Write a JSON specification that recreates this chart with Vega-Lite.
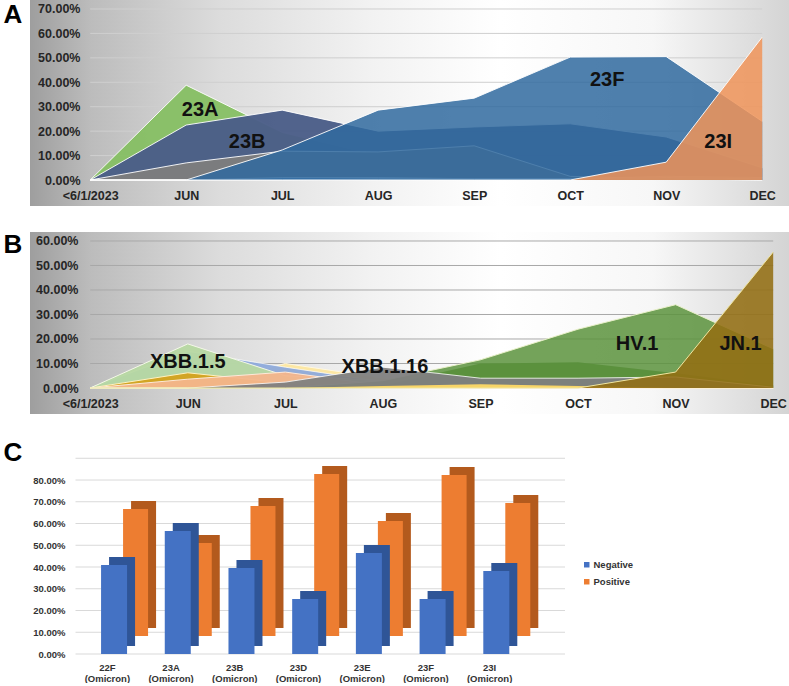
{
"$schema": "https://vega.github.io/schema/vega-lite/v6.json",
"padding": {"left": 3, "top": 0, "right": 0, "bottom": 0},
"background": "#ffffff",
"config": {"view": {"stroke": null}, "font": "Liberation Sans", "axis": {"labelFont": "Liberation Sans"}, "legend": {"labelFont": "Liberation Sans"}},
"datasets": {
"seriesA": [
{"s":"23A","m":"<6/1/2023","v":0},{"s":"23A","m":"JUN","v":0.388},{"s":"23A","m":"JUL","v":0.195},{"s":"23A","m":"AUG","v":0.10},{"s":"23A","m":"SEP","v":0.05},{"s":"23A","m":"OCT","v":0.02},{"s":"23A","m":"NOV","v":0.005},{"s":"23A","m":"DEC","v":0},
{"s":"23B","m":"<6/1/2023","v":0},{"s":"23B","m":"JUN","v":0.225},{"s":"23B","m":"JUL","v":0.286},{"s":"23B","m":"AUG","v":0.20},{"s":"23B","m":"SEP","v":0.217},{"s":"23B","m":"OCT","v":0.23},{"s":"23B","m":"NOV","v":0.176},{"s":"23B","m":"DEC","v":0.05},
{"s":"22F","m":"<6/1/2023","v":0},{"s":"22F","m":"JUN","v":0.07},{"s":"22F","m":"JUL","v":0.118},{"s":"22F","m":"AUG","v":0.115},{"s":"22F","m":"SEP","v":0.14},{"s":"22F","m":"OCT","v":0.015},{"s":"22F","m":"NOV","v":0.005},{"s":"22F","m":"DEC","v":0},
{"s":"23D","m":"<6/1/2023","v":0},{"s":"23D","m":"JUN","v":0},{"s":"23D","m":"JUL","v":0.01},{"s":"23D","m":"AUG","v":0.01},{"s":"23D","m":"SEP","v":0.005},{"s":"23D","m":"OCT","v":0.005},{"s":"23D","m":"NOV","v":0.015},{"s":"23D","m":"DEC","v":0.01},
{"s":"23E","m":"<6/1/2023","v":0},{"s":"23E","m":"JUN","v":0},{"s":"23E","m":"JUL","v":0},{"s":"23E","m":"AUG","v":0.005},{"s":"23E","m":"SEP","v":0.005},{"s":"23E","m":"OCT","v":0.005},{"s":"23E","m":"NOV","v":0.01},{"s":"23E","m":"DEC","v":0.005},
{"s":"23F","m":"<6/1/2023","v":0},{"s":"23F","m":"JUN","v":0},{"s":"23F","m":"JUL","v":0.123},{"s":"23F","m":"AUG","v":0.286},{"s":"23F","m":"SEP","v":0.335},{"s":"23F","m":"OCT","v":0.503},{"s":"23F","m":"NOV","v":0.505},{"s":"23F","m":"DEC","v":0.24},
{"s":"23I","m":"<6/1/2023","v":0},{"s":"23I","m":"JUN","v":0},{"s":"23I","m":"JUL","v":0},{"s":"23I","m":"AUG","v":0},{"s":"23I","m":"SEP","v":0},{"s":"23I","m":"OCT","v":0},{"s":"23I","m":"NOV","v":0.073},{"s":"23I","m":"DEC","v":0.585}
],
"seriesB": [
{"s":"XBB.1.9.1","m":"<6/1/2023","v":0},{"s":"XBB.1.9.1","m":"JUN","v":0.15},{"s":"XBB.1.9.1","m":"JUL","v":0.085},{"s":"XBB.1.9.1","m":"AUG","v":0.025},{"s":"XBB.1.9.1","m":"SEP","v":0.005},{"s":"XBB.1.9.1","m":"OCT","v":0},{"s":"XBB.1.9.1","m":"NOV","v":0},{"s":"XBB.1.9.1","m":"DEC","v":0},
{"s":"XBB.1.9.2","m":"<6/1/2023","v":0},{"s":"XBB.1.9.2","m":"JUN","v":0},{"s":"XBB.1.9.2","m":"JUL","v":0.10},{"s":"XBB.1.9.2","m":"AUG","v":0.04},{"s":"XBB.1.9.2","m":"SEP","v":0.015},{"s":"XBB.1.9.2","m":"OCT","v":0.005},{"s":"XBB.1.9.2","m":"NOV","v":0},{"s":"XBB.1.9.2","m":"DEC","v":0},
{"s":"XBB.1.5","m":"<6/1/2023","v":0},{"s":"XBB.1.5","m":"JUN","v":0.18},{"s":"XBB.1.5","m":"JUL","v":0.05},{"s":"XBB.1.5","m":"AUG","v":0.03},{"s":"XBB.1.5","m":"SEP","v":0.01},{"s":"XBB.1.5","m":"OCT","v":0.005},{"s":"XBB.1.5","m":"NOV","v":0},{"s":"XBB.1.5","m":"DEC","v":0},
{"s":"FL.1.5.1","m":"<6/1/2023","v":0},{"s":"FL.1.5.1","m":"JUN","v":0.062},{"s":"FL.1.5.1","m":"JUL","v":0.02},{"s":"FL.1.5.1","m":"AUG","v":0.008},{"s":"FL.1.5.1","m":"SEP","v":0.012},{"s":"FL.1.5.1","m":"OCT","v":0.005},{"s":"FL.1.5.1","m":"NOV","v":0},{"s":"FL.1.5.1","m":"DEC","v":0},
{"s":"XBB.2.3","m":"<6/1/2023","v":0},{"s":"XBB.2.3","m":"JUN","v":0.036},{"s":"XBB.2.3","m":"JUL","v":0.065},{"s":"XBB.2.3","m":"AUG","v":0.01},{"s":"XBB.2.3","m":"SEP","v":0},{"s":"XBB.2.3","m":"OCT","v":0},{"s":"XBB.2.3","m":"NOV","v":0},{"s":"XBB.2.3","m":"DEC","v":0},
{"s":"EG.5.1","m":"<6/1/2023","v":0},{"s":"EG.5.1","m":"JUN","v":0},{"s":"EG.5.1","m":"JUL","v":0},{"s":"EG.5.1","m":"AUG","v":0.01},{"s":"EG.5.1","m":"SEP","v":0.10},{"s":"EG.5.1","m":"OCT","v":0.105},{"s":"EG.5.1","m":"NOV","v":0.06},{"s":"EG.5.1","m":"DEC","v":0.01},
{"s":"HV.1","m":"<6/1/2023","v":0},{"s":"HV.1","m":"JUN","v":0},{"s":"HV.1","m":"JUL","v":0},{"s":"HV.1","m":"AUG","v":0.03},{"s":"HV.1","m":"SEP","v":0.115},{"s":"HV.1","m":"OCT","v":0.24},{"s":"HV.1","m":"NOV","v":0.34},{"s":"HV.1","m":"DEC","v":0.16},
{"s":"XBB.1.16","m":"<6/1/2023","v":0},{"s":"XBB.1.16","m":"JUN","v":0},{"s":"XBB.1.16","m":"JUL","v":0.024},{"s":"XBB.1.16","m":"AUG","v":0.085},{"s":"XBB.1.16","m":"SEP","v":0.04},{"s":"XBB.1.16","m":"OCT","v":0.04},{"s":"XBB.1.16","m":"NOV","v":0.045},{"s":"XBB.1.16","m":"DEC","v":0.003},
{"s":"GK.1","m":"<6/1/2023","v":0},{"s":"GK.1","m":"JUN","v":0},{"s":"GK.1","m":"JUL","v":0},{"s":"GK.1","m":"AUG","v":0.008},{"s":"GK.1","m":"SEP","v":0.015},{"s":"GK.1","m":"OCT","v":0.008},{"s":"GK.1","m":"NOV","v":0},{"s":"GK.1","m":"DEC","v":0},
{"s":"JN.1","m":"<6/1/2023","v":0},{"s":"JN.1","m":"JUN","v":0},{"s":"JN.1","m":"JUL","v":0},{"s":"JN.1","m":"AUG","v":0},{"s":"JN.1","m":"SEP","v":0},{"s":"JN.1","m":"OCT","v":0},{"s":"JN.1","m":"NOV","v":0.065},{"s":"JN.1","m":"DEC","v":0.555}
],
"cladeC": [
{"c":"22F (Omicron)","t":"Negative","v":0.409},{"c":"22F (Omicron)","t":"Positive","v":0.584},
{"c":"23A (Omicron)","t":"Negative","v":0.566},{"c":"23A (Omicron)","t":"Positive","v":0.428},
{"c":"23B (Omicron)","t":"Negative","v":0.395},{"c":"23B (Omicron)","t":"Positive","v":0.598},
{"c":"23D (Omicron)","t":"Negative","v":0.253},{"c":"23D (Omicron)","t":"Positive","v":0.745},
{"c":"23E (Omicron)","t":"Negative","v":0.464},{"c":"23E (Omicron)","t":"Positive","v":0.529},
{"c":"23F (Omicron)","t":"Negative","v":0.253},{"c":"23F (Omicron)","t":"Positive","v":0.740},
{"c":"23I (Omicron)","t":"Negative","v":0.382},{"c":"23I (Omicron)","t":"Positive","v":0.611}
]
},
"columns": 1,
"align": "none",
"bounds": "full",
"spacing": 26,
"concat": [
{
"width": 759, "height": 206,
"view": {"stroke": null, "fill": {"gradient": "linear", "x1": 0, "y1": 0, "x2": 1, "y2": 0, "stops": [{"offset": 0, "color": "#9e9e9e"}, {"offset": 0.08, "color": "#bcbcbc"}, {"offset": 0.25, "color": "#dcdcdc"}, {"offset": 0.45, "color": "#f2f2f2"}, {"offset": 0.62, "color": "#ffffff"}, {"offset": 0.82, "color": "#f7f7f7"}, {"offset": 1, "color": "#d4d4d4"}]}},
"title": {"text": "A", "orient": "left", "anchor": "end", "angle": 0, "align": "right", "baseline": "top", "fontSize": 26, "fontWeight": "bold", "font": "Liberation Sans", "color": "#000000", "offset": -11, "dy": 2},
"data": {"name": "seriesA"},
"encoding": {
"x": {"field": "m", "type": "ordinal", "sort": null, "scale": {"type": "point", "domain": ["<6/1/2023","JUN","JUL","AUG","SEP","OCT","NOV","DEC"], "padding": 0.453, "align": 0.692}, "axis": {"orient": "bottom", "offset": -17, "labelPadding": 0, "ticks": false, "domain": false, "grid": false, "labelAngle": 0, "labelFontSize": 12.5, "labelFontWeight": "bold", "labelColor": "#262626", "title": null}},
"y": {"field": "v", "type": "quantitative", "scale": {"domain": [-0.1064, 0.7368], "nice": false, "zero": false}, "axis": {"values": [0,0.1,0.2,0.3,0.4,0.5,0.6,0.7], "format": ".2%", "orient": "left", "offset": -52, "labelPadding": 2, "ticks": false, "domain": false, "grid": false, "labelFontSize": 12.5, "labelFontWeight": "bold", "labelColor": "#262626", "title": null}}
},
"layer": [
{"data": {"values": [{"g":0.1},{"g":0.2},{"g":0.3},{"g":0.4},{"g":0.5},{"g":0.6},{"g":0.7}]}, "mark": {"type": "rule", "color": "#cfcfcf", "strokeWidth": 1}, "encoding": {"x": {"datum": "<6/1/2023", "type": "ordinal"}, "x2": {"datum": "DEC"}, "y": {"field": "g", "type": "quantitative"}}},
{"transform": [{"filter": "datum.s === '23A'"}], "mark": {"type": "area", "color": "#86bf63", "opacity": 0.95, "line": {"color": "#ffffff", "strokeWidth": 1, "opacity": 0.9}}, "encoding": {"y2": {"datum": 0}}},
{"transform": [{"filter": "datum.s === '23B'"}], "mark": {"type": "area", "color": "#4b5e88", "opacity": 0.97, "line": {"color": "#ffffff", "strokeWidth": 1, "opacity": 0.9}}, "encoding": {"y2": {"datum": 0}}},
{"transform": [{"filter": "datum.s === '22F'"}], "mark": {"type": "area", "color": "#7d7d7d", "opacity": 0.95, "line": {"color": "#ffffff", "strokeWidth": 1, "opacity": 0.9}}, "encoding": {"y2": {"datum": 0}}},
{"transform": [{"filter": "datum.s === '23D'"}], "mark": {"type": "area", "color": "#5b9bd5", "opacity": 0.9, "line": {"color": "#ffffff", "strokeWidth": 1, "opacity": 0.8}}, "encoding": {"y2": {"datum": 0}}},
{"transform": [{"filter": "datum.s === '23E'"}], "mark": {"type": "area", "color": "#9dc3e6", "opacity": 0.9, "line": {"color": "#ffffff", "strokeWidth": 1, "opacity": 0.8}}, "encoding": {"y2": {"datum": 0}}},
{"transform": [{"filter": "datum.s === '23F'"}], "mark": {"type": "area", "color": "#306a9f", "opacity": 0.85, "line": {"color": "#ffffff", "strokeWidth": 1, "opacity": 0.9}}, "encoding": {"y2": {"datum": 0}}},
{"transform": [{"filter": "datum.s === '23I'"}], "mark": {"type": "area", "color": "#f09459", "opacity": 0.85, "line": {"color": "#ffffff", "strokeWidth": 1, "opacity": 0.9}}, "encoding": {"y2": {"datum": 0}}},
{"data": {"values": [{}]}, "mark": {"type": "rule", "color": "#595959", "strokeWidth": 2}, "encoding": {"x": {"datum": "<6/1/2023", "type": "ordinal"}, "x2": {"datum": "DEC"}, "y": {"datum": 0, "type": "quantitative"}}},
{"data": {"values": [{"t": "23A", "m": "JUN", "v": 0.2866}]}, "mark": {"type": "text", "dx": 14, "fontSize": 20, "fontWeight": "bold", "color": "#111111"}, "encoding": {"text": {"field": "t"}}},
{"data": {"values": [{"t": "23B", "m": "JUN", "v": 0.1556}]}, "mark": {"type": "text", "dx": 61, "fontSize": 20, "fontWeight": "bold", "color": "#111111"}, "encoding": {"text": {"field": "t"}}},
{"data": {"values": [{"t": "23F", "m": "OCT", "v": 0.409}]}, "mark": {"type": "text", "dx": 37, "fontSize": 20, "fontWeight": "bold", "color": "#111111"}, "encoding": {"text": {"field": "t"}}},
{"data": {"values": [{"t": "23I", "m": "NOV", "v": 0.1556}]}, "mark": {"type": "text", "dx": 52, "fontSize": 20, "fontWeight": "bold", "color": "#111111"}, "encoding": {"text": {"field": "t"}}}
]
},
{
"width": 759, "height": 182,
"view": {"stroke": null, "fill": {"gradient": "linear", "x1": 0, "y1": 0, "x2": 1, "y2": 0, "stops": [{"offset": 0, "color": "#9e9e9e"}, {"offset": 0.08, "color": "#bcbcbc"}, {"offset": 0.25, "color": "#dcdcdc"}, {"offset": 0.45, "color": "#f2f2f2"}, {"offset": 0.62, "color": "#ffffff"}, {"offset": 0.82, "color": "#f7f7f7"}, {"offset": 1, "color": "#d4d4d4"}]}},
"title": {"text": "B", "orient": "left", "anchor": "end", "angle": 0, "align": "right", "baseline": "top", "fontSize": 26, "fontWeight": "bold", "font": "Liberation Sans", "color": "#000000", "offset": -11},
"data": {"name": "seriesB"},
"encoding": {
"x": {"field": "m", "type": "ordinal", "sort": null, "scale": {"type": "point", "domain": ["<6/1/2023","JUN","JUL","AUG","SEP","OCT","NOV","DEC"], "padding": 0.3895, "align": 0.792}, "axis": {"orient": "bottom", "offset": -17, "labelPadding": 0, "ticks": false, "domain": false, "grid": false, "labelAngle": 0, "labelFontSize": 12.5, "labelFontWeight": "bold", "labelColor": "#262626", "title": null}},
"y": {"field": "v", "type": "quantitative", "scale": {"domain": [-0.1061, 0.6367], "nice": false, "zero": false}, "axis": {"values": [0,0.1,0.2,0.3,0.4,0.5,0.6], "format": ".2%", "orient": "left", "offset": -50, "labelPadding": 2, "ticks": false, "domain": false, "grid": false, "labelFontSize": 12.5, "labelFontWeight": "bold", "labelColor": "#262626", "title": null}}
},
"layer": [
{"data": {"values": [{"g":0.1},{"g":0.2},{"g":0.3},{"g":0.4},{"g":0.5},{"g":0.6}]}, "mark": {"type": "rule", "color": "#a8a8a8", "strokeWidth": 1}, "encoding": {"x": {"datum": "<6/1/2023", "type": "ordinal"}, "x2": {"datum": "DEC"}, "y": {"field": "g", "type": "quantitative"}}},
{"transform": [{"filter": "datum.s === 'XBB.1.9.2'"}], "mark": {"type": "area", "color": "#fde7a0", "opacity": 0.95, "line": {"color": "#fff8e0", "strokeWidth": 1}}, "encoding": {"y2": {"datum": 0}}},
{"transform": [{"filter": "datum.s === 'XBB.1.9.1'"}], "mark": {"type": "area", "color": "#8eaadb", "opacity": 0.95, "line": {"color": "#ffffff", "strokeWidth": 1, "opacity": 0.7}}, "encoding": {"y2": {"datum": 0}}},
{"transform": [{"filter": "datum.s === 'XBB.1.5'"}], "mark": {"type": "area", "color": "#b7d8a2", "opacity": 0.95, "line": {"color": "#f4f8e8", "strokeWidth": 1}}, "encoding": {"y2": {"datum": 0}}},
{"transform": [{"filter": "datum.s === 'FL.1.5.1'"}], "mark": {"type": "area", "color": "#d4a21c", "opacity": 0.95, "line": {"color": "#fff2c0", "strokeWidth": 1}}, "encoding": {"y2": {"datum": 0}}},
{"transform": [{"filter": "datum.s === 'XBB.2.3'"}], "mark": {"type": "area", "color": "#f3b58c", "opacity": 0.95, "line": {"color": "#fde9d9", "strokeWidth": 1}}, "encoding": {"y2": {"datum": 0}}},
{"transform": [{"filter": "datum.s === 'EG.5.1'"}], "mark": {"type": "area", "color": "#4f7f36", "opacity": 0.95}, "encoding": {"y2": {"datum": 0}}},
{"transform": [{"filter": "datum.s === 'HV.1'"}], "mark": {"type": "area", "color": "#5c933d", "opacity": 0.85, "line": {"color": "#e8f0c8", "strokeWidth": 1}}, "encoding": {"y2": {"datum": 0}}},
{"transform": [{"filter": "datum.s === 'XBB.1.16'"}], "mark": {"type": "area", "color": "#808080", "opacity": 0.95, "line": {"color": "#ffffff", "strokeWidth": 1, "opacity": 0.8}}, "encoding": {"y2": {"datum": 0}}},
{"transform": [{"filter": "datum.s === 'GK.1'"}], "mark": {"type": "area", "color": "#ffd966", "opacity": 0.95}, "encoding": {"y2": {"datum": 0}}},
{"transform": [{"filter": "datum.s === 'JN.1'"}], "mark": {"type": "area", "color": "#936e13", "opacity": 0.88, "line": {"color": "#f0e6a0", "strokeWidth": 1}}, "encoding": {"y2": {"datum": 0}}},
{"data": {"values": [{}]}, "mark": {"type": "rule", "color": "#1a1a1a", "strokeWidth": 2}, "encoding": {"x": {"datum": "<6/1/2023", "type": "ordinal"}, "x2": {"datum": "DEC"}, "y": {"datum": 0, "type": "quantitative"}}},
{"data": {"values": [{"t": "XBB.1.5", "m": "JUN", "v": 0.106}]}, "mark": {"type": "text", "dx": 0, "fontSize": 20, "fontWeight": "bold", "color": "#111111"}, "encoding": {"text": {"field": "t"}}},
{"data": {"values": [{"t": "XBB.1.16", "m": "AUG", "v": 0.0857}]}, "mark": {"type": "text", "dx": 2, "fontSize": 20, "fontWeight": "bold", "color": "#111111"}, "encoding": {"text": {"field": "t"}}},
{"data": {"values": [{"t": "HV.1", "m": "OCT", "v": 0.18}]}, "mark": {"type": "text", "dx": 59, "fontSize": 20, "fontWeight": "bold", "color": "#111111"}, "encoding": {"text": {"field": "t"}}},
{"data": {"values": [{"t": "JN.1", "m": "NOV", "v": 0.18}]}, "mark": {"type": "text", "dx": 65, "fontSize": 20, "fontWeight": "bold", "color": "#111111"}, "encoding": {"text": {"field": "t"}}}
]
},
{
"width": 535, "height": 214,
"title": {"text": "C", "orient": "left", "anchor": "end", "angle": 0, "align": "right", "baseline": "top", "fontSize": 26, "fontWeight": "bold", "font": "Liberation Sans", "color": "#000000", "offset": -11},
"data": {"name": "cladeC"},
"encoding": {
"x": {"field": "c", "type": "nominal", "sort": null, "scale": {"paddingInner": 0, "paddingOuter": 0.699, "align": 0.511}, "axis": {"labelExpr": "split(datum.label, ' ')", "labelAngle": 0, "ticks": false, "domain": false, "grid": false, "labelPadding": 8, "labelFontSize": 9.5, "labelFontWeight": "bold", "labelColor": "#333333", "labelLineHeight": 11, "title": null}},
"y": {"field": "v", "type": "quantitative", "scale": {"domain": [0, 0.984], "nice": false}, "axis": {"values": [0,0.1,0.2,0.3,0.4,0.5,0.6,0.7,0.8], "format": ".2%", "orient": "left", "offset": -37, "labelPadding": 2, "grid": false, "ticks": false, "domain": false, "labelFontSize": 9.5, "labelFontWeight": "bold", "labelColor": "#333333", "title": null}}
},
"layer": [
{"data": {"values": [{"g":0},{"g":0.1},{"g":0.2},{"g":0.3},{"g":0.4},{"g":0.5},{"g":0.6},{"g":0.7},{"g":0.8},{"g":0.9}]}, "mark": {"type": "rule", "color": "#d9d9d9", "strokeWidth": 1}, "encoding": {"x": {"datum": "22F (Omicron)", "type": "nominal", "bandPosition": 0}, "x2": {"value": "width"}, "y": {"field": "g", "type": "quantitative"}}},
{"transform": [{"filter": "datum.t === 'Positive'"}], "mark": {"type": "bar", "width": 25, "xOffset": 36.2, "yOffset": -26, "y2Offset": -26, "color": "#b35a1d"}},
{"transform": [{"filter": "datum.t === 'Positive'"}], "mark": {"type": "bar", "width": 25, "xOffset": 28.2, "yOffset": -18, "y2Offset": -18}, "encoding": {"color": {"field": "t", "type": "nominal", "scale": {"domain": ["Negative", "Positive"], "range": ["#4472c4", "#ed7d31"]}, "legend": {"orient": "none", "legendX": 552, "legendY": 560, "title": null, "symbolType": "square", "symbolSize": 30, "labelFontSize": 9.5, "labelFontWeight": "bold", "labelColor": "#333333", "rowPadding": 6, "padding": 0, "labelOffset": 2}}}},
{"transform": [{"filter": "datum.t === 'Negative'"}], "mark": {"type": "bar", "width": 26, "xOffset": 14.7, "yOffset": -8, "y2Offset": -8, "color": "#2f5597"}},
{"transform": [{"filter": "datum.t === 'Negative'"}], "mark": {"type": "bar", "width": 26, "xOffset": 6.7}, "encoding": {"color": {"field": "t", "type": "nominal"}}}
]
}
]
}
